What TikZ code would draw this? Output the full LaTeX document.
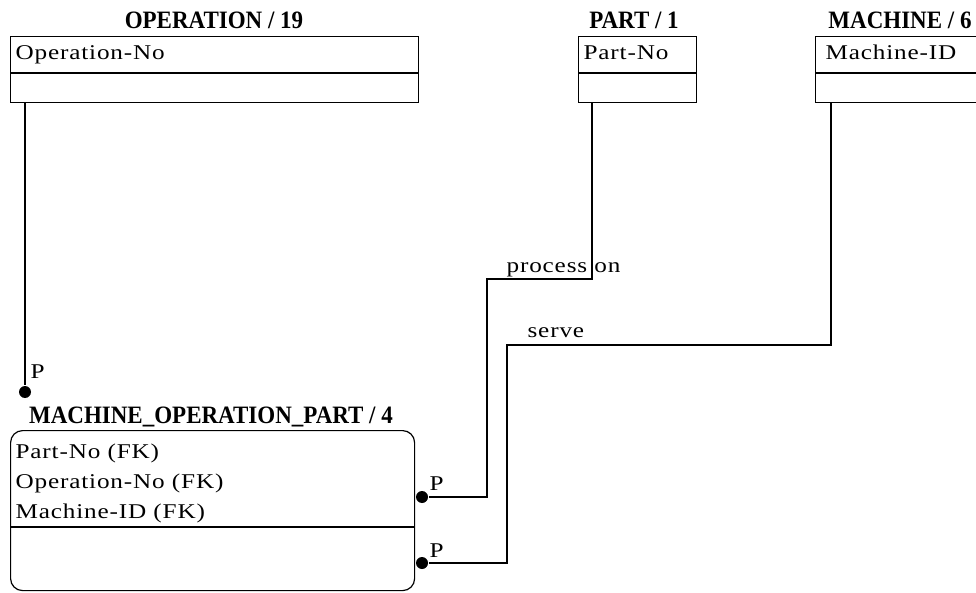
\documentclass[tikz,border=0pt]{standalone}
\usepackage{fontspec}
\setmainfont{Liberation Serif}
\newfontfamily\attrfont[FakeStretch=1.2,LetterSpace=4]{Liberation Serif}
\newfontfamily\titlefont[FakeStretch=0.92]{Liberation Serif}
\usetikzlibrary{positioning,calc}

\begin{document}
\begin{tikzpicture}[x=1pt, y=-1pt, line width=1.2pt,
  entbox/.style={draw, inner sep=0pt, anchor=north west, minimum height=66pt},
  etitle/.style={font=\titlefont\fontsize{25}{27}\selectfont\bfseries, anchor=base, inner sep=0pt},
  attr/.style={font=\attrfont\fontsize{21}{23}\selectfont, anchor=base west, inner sep=0pt},
  dot/.style={circle, fill, inner sep=0pt, minimum size=12pt}]
\useasboundingbox (0,0) rectangle (976,593);

% entities
\node[entbox, minimum width=408pt] (operation) at (10,36) {};
\node[entbox, minimum width=118pt] (part) at (578,36) {};
\node[entbox, minimum width=185pt] (machine) at (815,36) {};
\node[entbox, rounded corners=12pt, minimum width=404pt, minimum height=160pt] (mop) at (10,430) {};
\foreach \e in {operation, part, machine}
  \draw (\e.west |- 0,73) -- (\e.east |- 0,73);
\draw (mop.west |- 0,527) -- (mop.east |- 0,527);

\node[etitle] (operationT) at (214,29) {OPERATION / 19};
\node[etitle] (partT) at (634,29) {PART / 1};
\node[etitle] (machineT) at (900,29) {MACHINE / 6};
\node[etitle] (mopT) at (211,423) {MACHINE\_OPERATION\_PART / 4};

% keys and attributes
\node[attr] (operationK) at (15,60) {Operation-No};
\node[attr] (partK) at (583,60) {Part-No};
\node[attr] (machineK) at (825,60) {Machine-ID};
\foreach \t [count=\i] in {Part-No (FK), Operation-No (FK), Machine-ID (FK)}
  \node[attr] (mopA\i) at (15,428+30*\i) {\t};

% relationships
\node[dot] (odot) at (25,392) {};
\node[dot] (pdot) at (422,497) {};
\node[dot] (mdot) at (422,563) {};
\coordinate (p1) at (592,279);
\coordinate (p2) at (487,279);
\coordinate (m1) at (831,345);
\coordinate (m2) at (507,345);
\draw (operation.south -| odot) -- (odot);
\draw (part.south -| p1) -- (p1) -- (p2) |- (pdot);
\draw (machine.south -| m1) -- (m1) -- (m2) |- (mdot);

\node[attr] (oP) at (30,378) {P};
\node[attr] (pP) at (429,490) {P};
\node[attr] (mP) at (429,557) {P};
\node[attr] (procL) at (506,273) {process on};
\node[attr] (serveL) at (527,337) {serve};
\end{tikzpicture}
\end{document}
